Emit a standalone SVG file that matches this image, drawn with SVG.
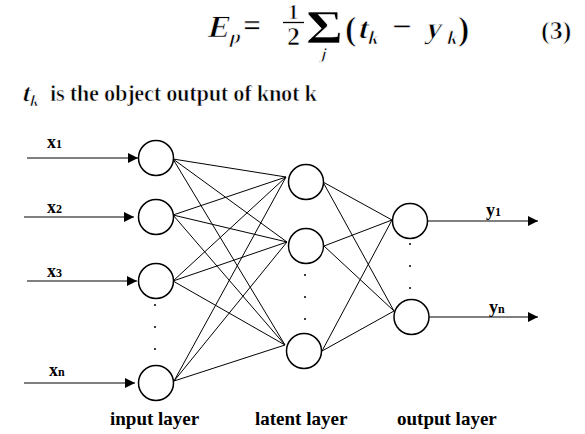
<svg xmlns="http://www.w3.org/2000/svg" width="585" height="434" viewBox="0 0 585 434">
<defs>
<marker id="ah" viewBox="0 0 10 10" refX="10" refY="5" markerWidth="10" markerHeight="10" markerUnits="userSpaceOnUse" orient="auto">
<path d="M0,0 L10,5 L0,10 Z" fill="#000"/>
</marker>
</defs>
<style>
.n{fill:#fff;stroke:#000;stroke-width:1.5}
.c line{stroke:#000;stroke-width:1}
.a{stroke:#000;stroke-width:1.3;marker-end:url(#ah)}
.d{fill:#000}
.b{font-family:"Liberation Serif",serif;font-weight:bold;fill:#000}
.t{font-family:"Liberation Serif",serif;font-weight:bold;fill:#000;stroke:#fff;stroke-width:0.7}
</style>
<rect width="585" height="434" fill="#fff"/>
<g id="formula">
<text class="t" transform="translate(207,37) skewX(-14)" font-size="31">E</text>
<text class="t" transform="translate(229,43) skewX(-14)" font-size="19">p</text>
<text class="t" x="243" y="36" font-size="32">=</text>
<text class="t" x="288" y="19" font-size="21">1</text>
<line x1="283" y1="22.5" x2="304" y2="22.5" stroke="#000" stroke-width="1.3"/>
<text class="t" x="287" y="45" font-size="26">2</text>
<text class="t" transform="translate(306,43) scale(1.2,1)" font-size="47">Σ</text>
<text class="t" transform="translate(320,59) skewX(-14)" font-size="16">j</text>
<text class="t" x="345" y="40" font-size="34">(</text>
<text class="t" transform="translate(357,38) skewX(-14)" font-size="30">t</text>
<text class="t" transform="translate(367,44) skewX(-14)" font-size="19">k</text>
<text class="t" x="392" y="38" font-size="35">−</text>
<text class="t" transform="translate(425,38) skewX(-14)" font-size="30">y</text>
<text class="t" transform="translate(446,44) skewX(-14)" font-size="19">k</text>
<text class="t" x="458" y="40" font-size="34">)</text>
<text class="t" x="541" y="39" font-size="26">(3)</text>
</g>
<g id="caption">
<text class="t" transform="translate(21,101) skewX(-14)" font-size="25">t</text>
<text class="t" transform="translate(29,106) skewX(-14)" font-size="16">k</text>
<text class="t" x="50" y="101" font-size="22.5" textLength="267" style="stroke-width:0.6">is the object output of knot k</text>
</g>
<g class="c" id="connectors">
<line x1="173" y1="159" x2="286" y2="177"/>
<line x1="173" y1="159" x2="287" y2="242"/>
<line x1="173" y1="159" x2="285" y2="345"/>
<line x1="173" y1="215" x2="286" y2="177"/>
<line x1="173" y1="215" x2="287" y2="242"/>
<line x1="173" y1="215" x2="285" y2="345"/>
<line x1="173" y1="281" x2="286" y2="177"/>
<line x1="173" y1="281" x2="287" y2="242"/>
<line x1="173" y1="281" x2="285" y2="345"/>
<line x1="174" y1="381" x2="286" y2="177"/>
<line x1="174" y1="381" x2="287" y2="242"/>
<line x1="174" y1="381" x2="285" y2="345"/>
<line x1="323" y1="182" x2="392" y2="220"/>
<line x1="323" y1="182" x2="394" y2="311"/>
<line x1="324" y1="246" x2="392" y2="220"/>
<line x1="324" y1="246" x2="394" y2="311"/>
<line x1="322" y1="351" x2="392" y2="220"/>
<line x1="322" y1="351" x2="394" y2="311"/>
<line class="a" x1="27" y1="158" x2="138" y2="158"/>
<line class="a" x1="24" y1="217" x2="134" y2="217"/>
<line class="a" x1="27" y1="281" x2="137" y2="281"/>
<line class="a" x1="24" y1="383" x2="135" y2="383"/>
<line class="a" x1="428" y1="221" x2="538" y2="221"/>
<line class="a" x1="429" y1="317" x2="538" y2="317"/>
</g>
<g id="in1"><circle class="n" cx="156" cy="158" r="17.5"/><text class="b" x="47" y="148" font-size="18">x<tspan font-size="12">1</tspan></text></g>
<g id="in2"><circle class="n" cx="156" cy="217" r="17.5"/><text class="b" x="47" y="213" font-size="18">x<tspan font-size="12">2</tspan></text></g>
<g id="in3"><circle class="n" cx="156" cy="281" r="17.5"/><text class="b" x="47" y="277" font-size="18">x<tspan font-size="12">3</tspan></text></g>
<g id="inn"><circle class="n" cx="156" cy="383" r="17.5"/><text class="b" x="49" y="376" font-size="18">x<tspan font-size="12">n</tspan></text></g>
<g id="indots"><circle class="d" cx="155" cy="305" r="1"/><circle class="d" cx="155" cy="327" r="1"/><circle class="d" cx="155" cy="349" r="1"/></g>
<g id="h1"><circle class="n" cx="306" cy="182" r="17.5"/></g>
<g id="h2"><circle class="n" cx="306" cy="246" r="17.5"/></g>
<g id="h3"><circle class="n" cx="304" cy="351" r="17.5"/></g>
<g id="hdots"><circle class="d" cx="305" cy="275" r="1"/><circle class="d" cx="305" cy="297" r="1"/><circle class="d" cx="305" cy="319" r="1"/></g>
<g id="o1"><circle class="n" cx="410" cy="221" r="17.5"/><text class="b" x="486" y="216" font-size="18">y<tspan font-size="12">1</tspan></text></g>
<g id="on"><circle class="n" cx="411.5" cy="317" r="17.5"/><text class="b" x="489" y="313" font-size="18">y<tspan font-size="12">n</tspan></text></g>
<g id="odots"><circle class="d" cx="410" cy="244" r="1"/><circle class="d" cx="410" cy="266" r="1"/><circle class="d" cx="410" cy="288" r="1"/></g>
<g id="labels">
<text class="b" x="110" y="425" font-size="19">input layer</text>
<text class="b" x="255" y="425" font-size="19">latent layer</text>
<text class="b" x="397" y="425" font-size="19">output layer</text>
</g>
</svg>
